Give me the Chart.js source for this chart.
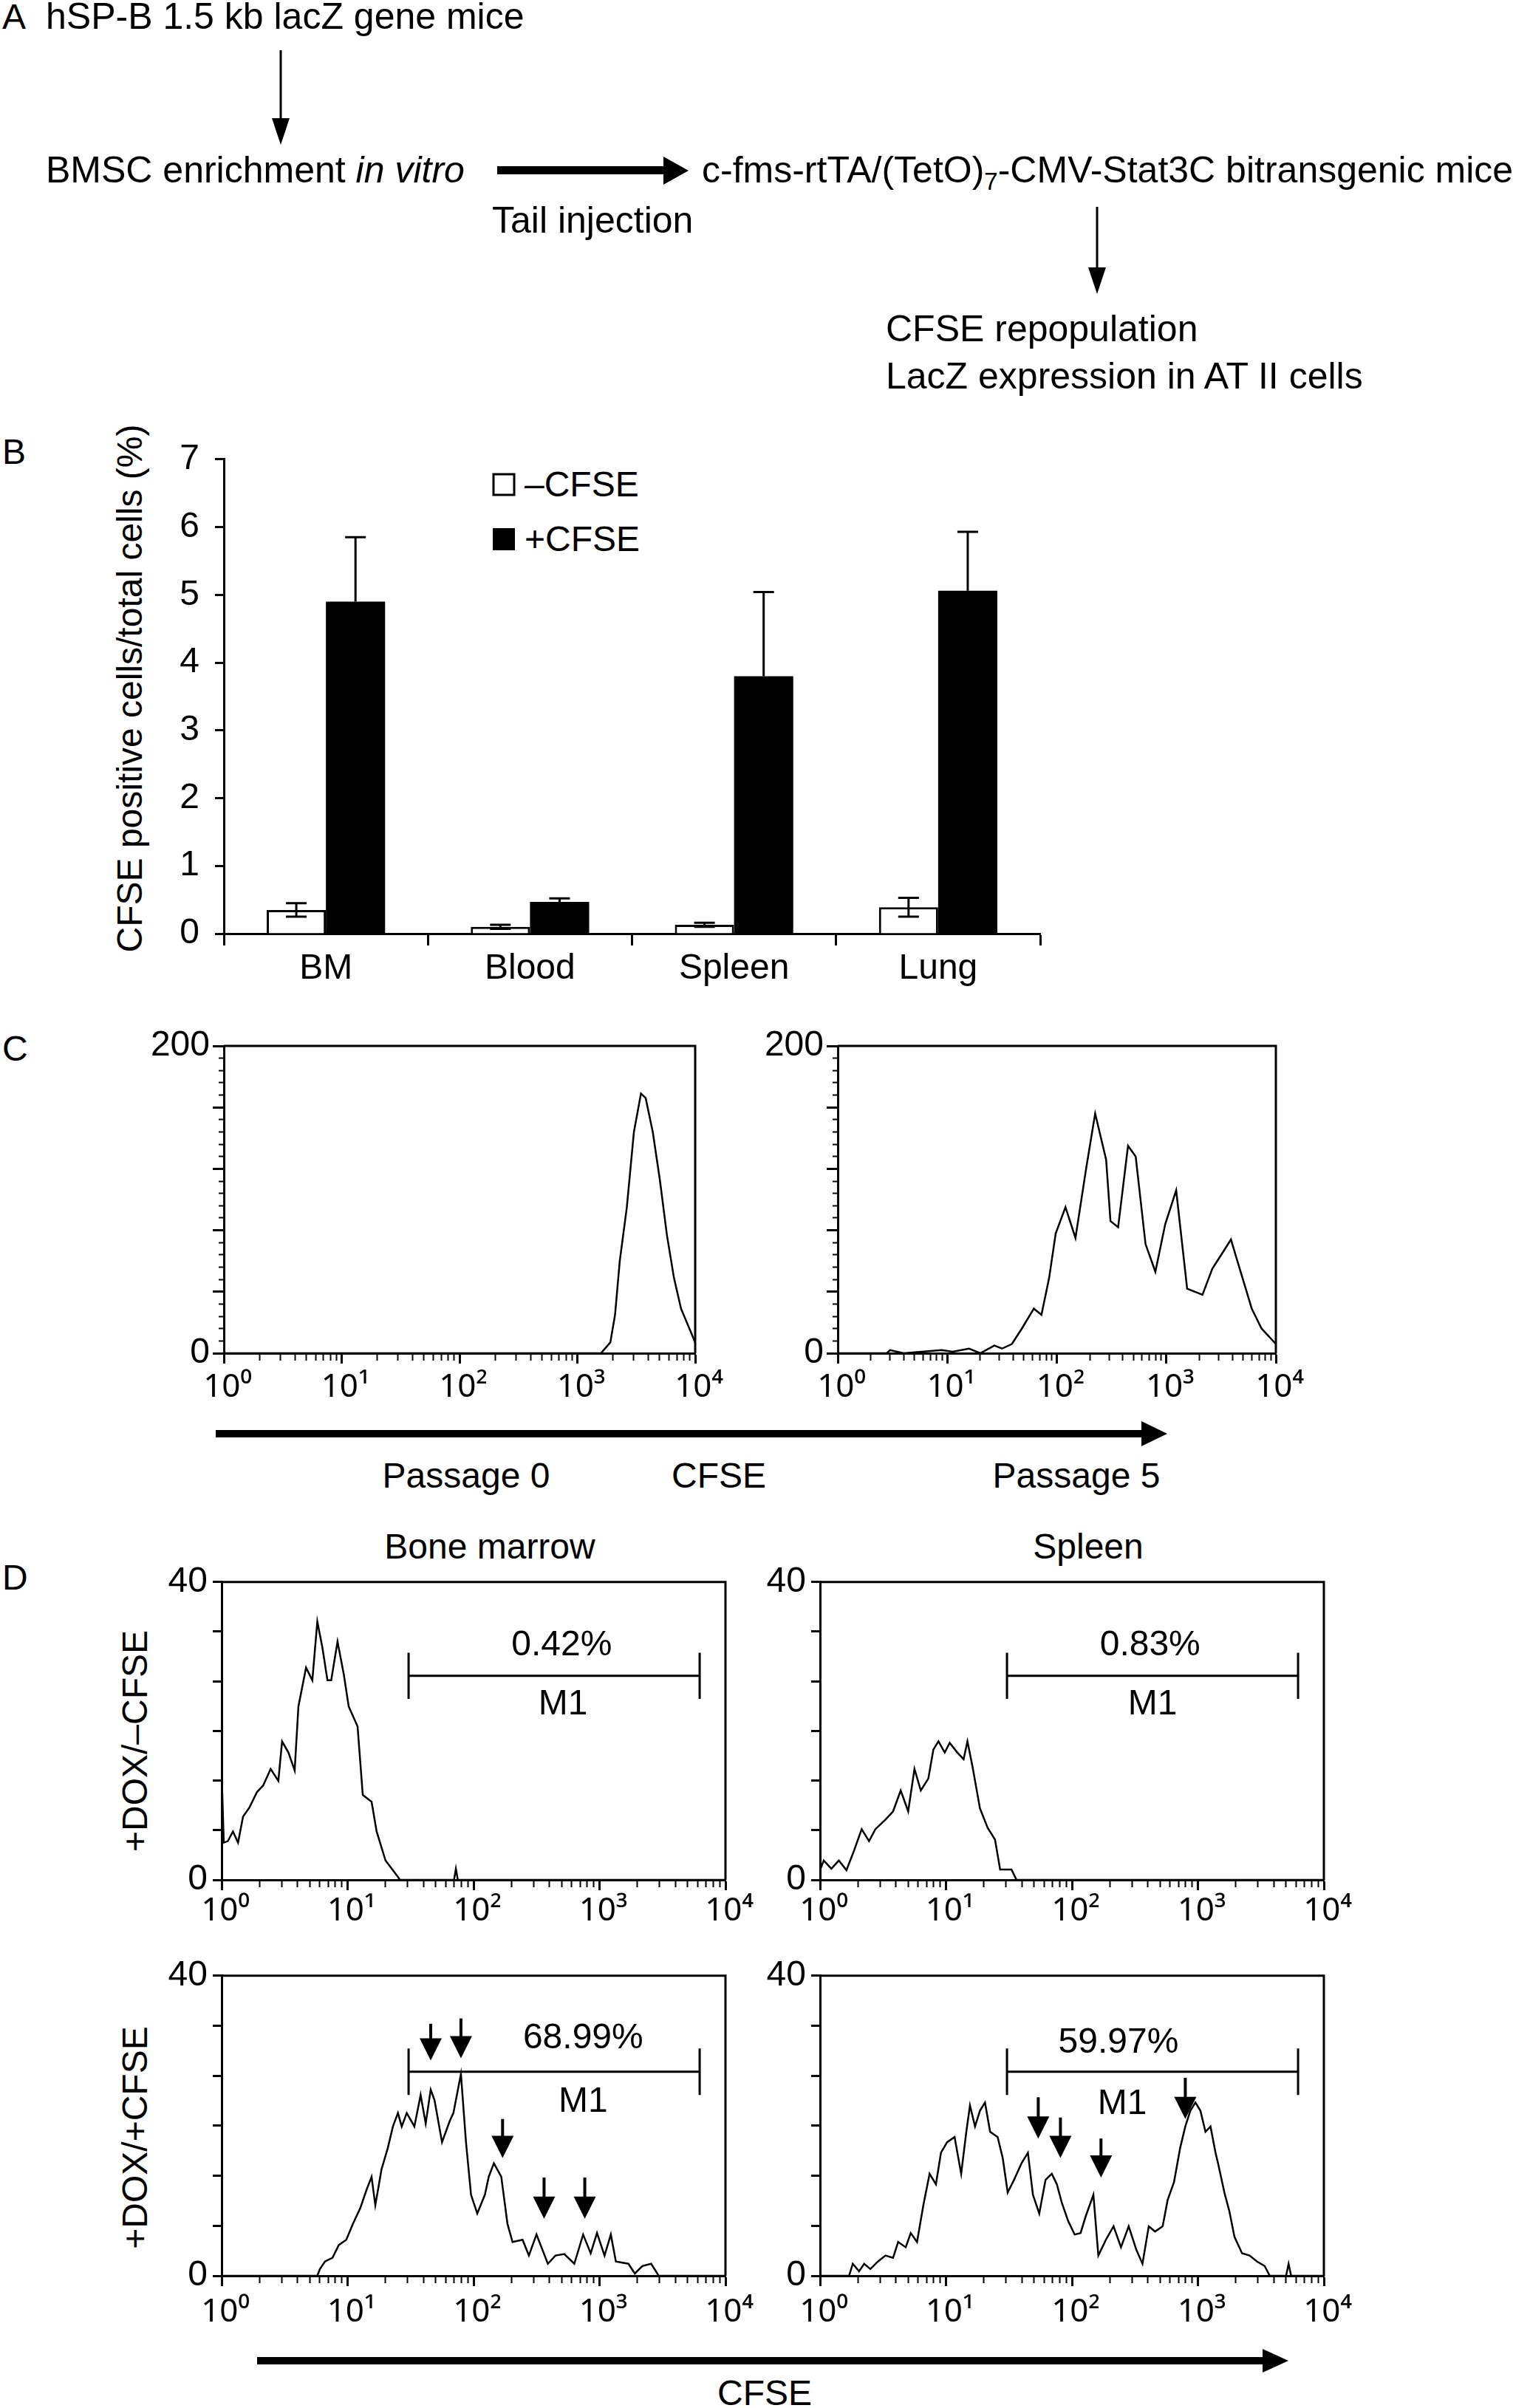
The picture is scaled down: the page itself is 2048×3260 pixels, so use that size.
<!DOCTYPE html>
<html>
<head>
<meta charset="utf-8">
<script src="https://cdn.jsdelivr.net/npm/chart.js@4.4.1/dist/chart.umd.min.js"></script>
<style>
  html, body { margin: 0; padding: 0; background: #fff; }
  #page { position: relative; width: 2048px; height: 3260px; overflow: hidden; background: #fff; }
  canvas { position: absolute; }
  svg { position: absolute; left: 0; top: 0; }
  svg text { font-family: "Liberation Sans", Arial, sans-serif; font-size: 48px; fill: #000; }
  svg .big { font-size: 50px; }
</style>
</head>
<body>
<div id="page">
<svg width="2048" height="3260">
  <!-- A: flow scheme -->
  <text x="3" y="39">A</text>
  <text class="big" x="62" y="39">hSP-B 1.5 kb lacZ gene mice</text>
  <line x1="380" y1="68" x2="380" y2="165" stroke="#000" stroke-width="3"/>
  <polygon points="368,160 392,160 380,196" fill="#000"/>
  <text class="big" x="62" y="247">BMSC enrichment <tspan font-style="italic">in vitro</tspan></text>
  <rect x="673" y="225" width="232" height="11" fill="#000"/>
  <polygon points="898,212 932,231 898,250" fill="#000"/>
  <text class="big" x="950" y="247">c-fms-rtTA/(TetO)<tspan font-size="33" dy="10">7</tspan><tspan dy="-10">-CMV-Stat3C bitransgenic mice</tspan></text>
  <text class="big" x="666" y="315">Tail injection</text>
  <line x1="1485" y1="280" x2="1485" y2="368" stroke="#000" stroke-width="3"/>
  <polygon points="1473,362 1497,362 1485,398" fill="#000"/>
  <text class="big" x="1199" y="462">CFSE repopulation</text>
  <text class="big" x="1199" y="526">LacZ expression in AT II cells</text>

  <!-- B -->
  <text x="3" y="628">B</text>
  <text transform="translate(175,932) rotate(-90)" text-anchor="middle" y="17">CFSE positive cells/total cells (%)</text>
  <rect x="668" y="642" width="28" height="28" fill="#fff" stroke="#000" stroke-width="3"/>
  <text x="710" y="672">–CFSE</text>
  <rect x="667" y="715" width="30" height="30" fill="#000"/>
  <text x="710" y="746">+CFSE</text>

  <!-- C -->
  <text x="3" y="1436">C</text>
  <rect x="292" y="1936" width="1258" height="10" fill="#000"/>
  <polygon points="1545,1924 1580,1941 1545,1958" fill="#000"/>
  <text x="631" y="2014" text-anchor="middle">Passage 0</text>
  <text x="973" y="2014" text-anchor="middle">CFSE</text>
  <text x="1457" y="2014" text-anchor="middle">Passage 5</text>

  <!-- D -->
  <text x="3" y="2152">D</text>
  <text x="663" y="2110" text-anchor="middle">Bone marrow</text>
  <text x="1473" y="2110" text-anchor="middle">Spleen</text>
  <text transform="translate(182,2357) rotate(-90)" text-anchor="middle" y="17">+DOX/–CFSE</text>
  <text transform="translate(182,2894) rotate(-90)" text-anchor="middle" y="17">+DOX/+CFSE</text>
  <rect x="348" y="3191" width="1366" height="10" fill="#000"/>
  <polygon points="1709,3180 1744,3196 1709,3212" fill="#000"/>
  <text x="1035" y="3256" text-anchor="middle">CFSE</text>
</svg>

<canvas id="barB" width="1225" height="772" style="left:203px;top:572px"></canvas>
<canvas id="histP0" width="793" height="526" style="left:193px;top:1381px"></canvas>
<canvas id="histP5" width="748" height="526" style="left:1024px;top:1381px"></canvas>
<canvas id="histBmNeg" width="837" height="514" style="left:190px;top:2106px"></canvas>
<canvas id="histSpNeg" width="837" height="514" style="left:1000px;top:2106px"></canvas>
<canvas id="histBmPos" width="837" height="517" style="left:190px;top:2639px"></canvas>
<canvas id="histSpPos" width="837" height="517" style="left:1000px;top:2639px"></canvas>
</div>

<script>
// B: CFSE positive cells / total cells (%)
const organs = ['BM', 'Blood', 'Spleen', 'Lung'];
const minusCfse = [0.35, 0.10, 0.13, 0.39];
const minusCfseSd = [0.10, 0.03, 0.03, 0.14];
const plusCfse = [4.90, 0.47, 3.80, 5.06];
const plusCfseSd = [0.95, 0.05, 1.24, 0.87];

// C: CFSE intensity / cell counts
const p0Cfse = [1, 1585, 1905, 2089, 2291, 2630, 3020, 3467, 3802, 4365, 5012, 5754, 6607, 7586, 8710, 10000];
const p0Counts = [0, 0, 7, 25, 60, 95, 144, 169, 166, 144, 113, 77, 49, 29, 18, 7];
const p5Cfse = [1, 2.8, 3.0, 4.0, 8.9, 11.2, 15.8, 20, 26.9, 31.6, 38.9, 47.9, 61.7, 72.4, 85.1, 97.7, 120, 148, 186, 224,
  282, 309, 363, 447, 525, 646, 794, 977, 1230, 1549, 2138, 2630, 3236, 3890, 4677, 6026, 7413, 10000];
const p5Counts = [0, 0, 2, 0, 2, 1, 3, 0, 5, 3, 6, 16, 29, 25, 49, 78, 95, 75, 121, 156,
  126, 86, 82, 135, 128, 71, 53, 84, 106, 42, 38, 55, 65, 74, 55, 29, 16, 6];

// D: +DOX/-CFSE
const bmNegCfse = [1, 1, 1.04, 1.12, 1.23, 1.35, 1.48, 1.66, 1.91, 2.14, 2.45, 2.82, 3.02, 3.39, 3.80, 4.07, 4.68, 5.25,
  5.75, 6.31, 6.92, 7.41, 8.32, 9.33, 10.2, 12.0, 13.2, 15.5, 17.0, 20.0, 25.1, 26, 70, 72.4, 75, 10000];
const bmNegCounts = [0, 14.5, 5, 5.2, 6.5, 5, 8.5, 9.7, 11.8, 12.7, 14.9, 13.3, 18.6, 17.1, 14.7, 23.3, 28.5, 26.8,
  34.7, 31.2, 26.8, 26.8, 32, 27.6, 23.3, 20.6, 11.4, 10.5, 6.5, 2.6, 0.4, 0, 0, 1.5, 0, 0];
const spNegCfse = [1, 1, 1.07, 1.23, 1.41, 1.62, 1.86, 2.14, 2.45, 2.75, 3.31, 3.80, 4.37, 5.01, 5.62, 6.31, 7.24, 7.94,
  8.71, 9.77, 10.7, 12.3, 13.8, 14.8, 16.2, 18.6, 21.4, 24.5, 26.9, 33.1, 36.3, 10000];
const spNegCounts = [0, 1.3, 2.6, 1.5, 2.6, 1.3, 3.9, 6.8, 5.2, 6.8, 8.1, 9.2, 12.0, 9.2, 14.9, 12.0, 13.6, 17.5,
  18.6, 17.1, 18.4, 17.1, 16.2, 18.6, 15.3, 9.6, 7.0, 5.4, 1.4, 1.4, 0, 0];

// D: +DOX/+CFSE
const bmPosCfse = [1, 5.75, 6.03, 6.61, 7.59, 8.51, 9.77, 11.0, 12.6, 14.1, 15.5, 16.6, 18.6, 20.9, 22.9, 25.1, 26.9,
  29.5, 33.9, 38.0, 41.7, 45.7, 49.0, 56.2, 64.6, 69.2, 79.4, 87.1, 95.5, 107, 123, 132, 145, 166, 186, 204, 245, 275,
  316, 389, 447, 525, 631, 741, 851, 955, 1096, 1230, 1349, 1698, 1905, 2188, 2570, 2951, 10000];
const bmPosCounts = [0, 0, 0.9, 1.9, 2.4, 4.1, 4.8, 6.9, 9.0, 11.4, 13.2, 9.4, 14.2, 17.1, 19.9, 21.7, 19.9,
  21.7, 19.9, 24.1, 20.3, 24.8, 23.4, 17.8, 20.6, 21.7, 26.9, 17.8, 10.8, 8.3, 10.8, 13.2, 15.0, 13.2, 6.9, 4.5, 4.8, 2.7,
  5.5, 1.6, 2.7, 2.9, 1.6, 5.5, 3.0, 5.7, 2.7, 5.5, 1.9, 1.6, 0.3, 1.3, 1.6, 0, 0];
const spPosCfse = [1, 1.70, 1.82, 2.04, 2.24, 2.51, 2.88, 3.31, 3.80, 4.17, 4.79, 5.25, 5.89, 6.61, 7.41, 8.32, 9.12,
  10.2, 11.7, 13.2, 14.5, 15.5, 17.0, 18.6, 20.4, 22.4, 25.7, 28.2, 30.9, 34.7, 39.8, 44.7, 49.0, 55.0, 61.7, 69.2,
  75.9, 83.2, 93.3, 105, 117, 129, 148, 162, 186, 214, 245, 282, 324, 363, 407, 457, 525, 575, 646, 724, 794, 871,
  955, 1047, 1148, 1259, 1380, 1445, 1622, 1778, 1950, 2239, 2570, 2951, 3388, 3715, 5012, 5248, 5495, 10000];
const spPosCounts = [0, 0, 1.6, 0.6, 1.6, 0.9, 1.9, 2.7, 2.4, 4.5, 3.8, 5.7, 4.5, 9.4, 13.6, 12.2, 16.4,
  17.8, 18.5, 13.6, 19.2, 22.7, 19.9, 22.0, 23.1, 19.2, 18.5, 15.7, 11.1, 12.8, 15.0, 16.4, 10.8, 8.3, 12.8, 13.6,
  12.2, 9.7, 7.3, 5.5, 5.7, 8.0, 10.8, 2.7, 4.8, 6.6, 3.8, 6.6, 3.5, 1.6, 6.6, 5.9, 6.6, 10.1, 12.5, 17.1, 19.9, 22.0,
  23.1, 22.0, 19.2, 19.9, 16.4, 15.0, 11.1, 8.6, 5.2, 3.0, 2.7, 1.9, 1.3, 0, 0, 1.6, 0, 0];

// M1 gate and its percentages (BM -CFSE, spleen -CFSE, BM +CFSE, spleen +CFSE)
const gateM1 = [30.5, 6240];
const gatePct = ['0.42%', '0.83%', '68.99%', '59.97%'];
const gatePctAt = [[501, 31.5], [417, 31.5], [741, 31.6], [234, 31.0]];
const gateM1At = [[513, 23.5], [437, 23.5], [741, 23.2], [251, 22.9]];
const gateLevel = [27.4, 27.4, 27.2, 27.2];

// division peaks marked by arrows: CFSE value, arrow top count, arrow tip count
const bmPeakCfse = [45.7, 79.4, 170, 363, 764];
const bmPeakTop = [33.6, 34.3, 20.9, 13.1, 13.1];
const bmPeakTip = [28.7, 29.0, 15.7, 7.6, 7.6];
const spPeakCfse = [54, 81, 170, 794];
const spPeakTop = [23.8, 21.1, 18.3, 26.4];
const spPeakTip = [18.3, 15.7, 13.1, 20.9];

const decadeLabels = { 1: '10⁰', 10: '10¹', 100: '10²', 1000: '10³', 10000: '10⁴' };
const logTicks = [];
[1, 10, 100, 1000].forEach(d => { for (let k = 1; k < 10; k++) logTicks.push(d * k); });
logTicks.push(10000);

Chart.defaults.font.family = '"Liberation Sans", Arial, sans-serif';
Chart.defaults.font.size = 48;
Chart.defaults.color = '#000';

const pts = (xs, ys) => xs.map((x, i) => ({ x: x, y: ys[i] }));
const isDecade = v => decadeLabels[v] !== undefined;

const errorBars = {
  id: 'errorBars',
  afterDatasetsDraw(chart) {
    const ctx = chart.ctx, y = chart.scales.y;
    ctx.save();
    ctx.strokeStyle = '#000';
    ctx.lineWidth = 3;
    chart.data.datasets.forEach((ds, di) => {
      chart.getDatasetMeta(di).data.forEach((bar, i) => {
        const v = ds.data[i], e = ds.sd[i];
        const top = y.getPixelForValue(v + e);
        const bot = y.getPixelForValue(ds.twoSided ? v - e : v);
        ctx.beginPath();
        ctx.moveTo(bar.x, top); ctx.lineTo(bar.x, bot);
        ctx.moveTo(bar.x - 14, top); ctx.lineTo(bar.x + 14, top);
        if (ds.twoSided) { ctx.moveTo(bar.x - 14, bot); ctx.lineTo(bar.x + 14, bot); }
        ctx.stroke();
      });
    });
    ctx.restore();
  }
};

const histMarks = {
  id: 'histMarks',
  afterDatasetsDraw(chart, args, o) {
    const { ctx, chartArea: a } = chart;
    const x = chart.scales.x, y = chart.scales.y;
    ctx.save();
    ctx.strokeStyle = '#000';
    ctx.fillStyle = '#000';
    ctx.lineWidth = 3;
    ctx.beginPath();
    ctx.moveTo(a.left, a.top); ctx.lineTo(a.right, a.top); ctx.lineTo(a.right, a.bottom);
    ctx.stroke();
    if (o.pct) {
      const x1 = x.getPixelForValue(gateM1[0]), x2 = x.getPixelForValue(gateM1[1]);
      const yy = y.getPixelForValue(o.level);
      const yt = y.getPixelForValue(o.level + 3.1), yb = y.getPixelForValue(o.level - 3.1);
      ctx.beginPath();
      ctx.moveTo(x1, yy); ctx.lineTo(x2, yy);
      ctx.moveTo(x1, yt); ctx.lineTo(x1, yb);
      ctx.moveTo(x2, yt); ctx.lineTo(x2, yb);
      ctx.stroke();
      ctx.font = '48px "Liberation Sans", Arial, sans-serif';
      ctx.textAlign = 'center';
      ctx.textBaseline = 'middle';
      ctx.fillText(o.pct, x.getPixelForValue(o.pctAt[0]), y.getPixelForValue(o.pctAt[1]));
      ctx.fillText('M1', x.getPixelForValue(o.m1At[0]), y.getPixelForValue(o.m1At[1]));
    }
    if (o.peaks) {
      o.peaks.cfse.forEach((v, i) => {
        const px = x.getPixelForValue(v);
        const top = y.getPixelForValue(o.peaks.top[i]);
        const tip = y.getPixelForValue(o.peaks.tip[i]);
        ctx.lineWidth = 4;
        ctx.beginPath(); ctx.moveTo(px, top); ctx.lineTo(px, tip - 20); ctx.stroke();
        ctx.beginPath();
        ctx.moveTo(px - 15, tip - 30); ctx.lineTo(px + 15, tip - 30); ctx.lineTo(px, tip);
        ctx.closePath(); ctx.fill();
      });
    }
    ctx.restore();
  }
};

function histChart(id, xs, ys, yMax, yStep, marks, box) {
  const yMajor = v => yMax !== 200 || Math.abs(v % 40) < 1e-6;
  return new Chart(document.getElementById(id), {
    type: 'line',
    data: { datasets: [{ data: pts(xs, ys), borderColor: '#000', borderWidth: 2.5, pointRadius: 0, tension: 0, fill: false }] },
    options: {
      responsive: false, animation: false, devicePixelRatio: 1,
      layout: { autoPadding: false, padding: { top: 35, right: 45, left: 0, bottom: 0 } },
      plugins: { legend: { display: false }, tooltip: { enabled: false }, histMarks: marks },
      scales: {
        x: {
          type: 'logarithmic', min: 1, max: 10000,
          afterBuildTicks: s => { s.ticks = logTicks.map(v => ({ value: v, major: isDecade(v) })); },
          afterFit: s => { s.height = 75; },
          ticks: { autoSkip: false, maxRotation: 0, padding: box.xpad, labelOffset: 5,
            font: { family: '"Noto Sans", "DejaVu Sans", sans-serif', size: 44 },
            callback: v => decadeLabels[v] || '' },
          border: { color: '#000', width: 3 },
          grid: {
            drawOnChartArea: false, tickLength: 14, tickColor: '#000',
            tickWidth: c => (c.tick && isDecade(c.tick.value)) ? 3 : 2,
            tickBorderDash: [14, 300],
            tickBorderDashOffset: c => (c.tick && isDecade(c.tick.value)) ? 0 : 6
          }
        },
        y: {
          min: 0, max: yMax,
          afterFit: s => { s.width = 110; },
          ticks: { stepSize: yStep, autoSkip: false, padding: box.ypad,
            callback: v => v === 0 ? '0' : (Math.abs(v - yMax) < 0.01 ? String(yMax) : '') },
          border: { color: '#000', width: 3 },
          grid: {
            drawOnChartArea: false, tickLength: box.ytick, tickColor: '#000',
            tickWidth: c => (c.tick && yMajor(c.tick.value)) ? 3 : 2,
            tickBorderDash: [box.ytick, 300],
            tickBorderDashOffset: c => (c.tick && yMajor(c.tick.value)) ? 0 : 300 + box.ytick - 8
          }
        }
      }
    },
    plugins: [histMarks]
  });
}

new Chart(document.getElementById('barB'), {
  type: 'bar',
  data: {
    labels: organs,
    datasets: [
      { label: '–CFSE', data: minusCfse, sd: minusCfseSd, twoSided: true, backgroundColor: '#fff', borderColor: '#000', borderWidth: 3,
        categoryPercentage: 0.58, barPercentage: 1 },
      { label: '+CFSE', data: plusCfse, sd: plusCfseSd, twoSided: false, backgroundColor: '#000', borderColor: '#000', borderWidth: 0,
        categoryPercentage: 0.58, barPercentage: 1 }
    ]
  },
  options: {
    responsive: false, animation: false, devicePixelRatio: 1,
    layout: { autoPadding: false, padding: { top: 40, right: 20, left: 0, bottom: 0 } },
    plugins: { legend: { display: false }, tooltip: { enabled: false } },
    scales: {
      x: {
        afterFit: s => { s.height = 80; },
        ticks: { padding: 3 },
        border: { color: '#000', width: 3 },
        grid: { offset: true, drawOnChartArea: false, tickLength: 16, tickWidth: 3, tickColor: '#000' }
      },
      y: {
        min: 0, max: 7,
        afterFit: s => { s.width = 100; },
        ticks: { stepSize: 1, padding: 21 },
        border: { color: '#000', width: 3 },
        grid: { drawOnChartArea: false, tickLength: 12, tickWidth: 3, tickColor: '#000' }
      }
    }
  },
  plugins: [errorBars]
});

const cBox = { xpad: 6, ypad: 4, ytick: 15 };
histChart('histP0', p0Cfse, p0Counts, 200, 8, {}, cBox);
histChart('histP5', p5Cfse, p5Counts, 200, 8, {}, cBox);

const dTop = { xpad: 2, ypad: 7, ytick: 12 };
const dBot = { xpad: 9, ypad: 7, ytick: 12 };
histChart('histBmNeg', bmNegCfse, bmNegCounts, 40, 40 / 6,
  { pct: gatePct[0], pctAt: gatePctAt[0], m1At: gateM1At[0], level: gateLevel[0] }, dTop);
histChart('histSpNeg', spNegCfse, spNegCounts, 40, 40 / 6,
  { pct: gatePct[1], pctAt: gatePctAt[1], m1At: gateM1At[1], level: gateLevel[1] }, dTop);
histChart('histBmPos', bmPosCfse, bmPosCounts, 40, 40 / 6,
  { pct: gatePct[2], pctAt: gatePctAt[2], m1At: gateM1At[2], level: gateLevel[2],
    peaks: { cfse: bmPeakCfse, top: bmPeakTop, tip: bmPeakTip } }, dBot);
histChart('histSpPos', spPosCfse, spPosCounts, 40, 40 / 6,
  { pct: gatePct[3], pctAt: gatePctAt[3], m1At: gateM1At[3], level: gateLevel[3],
    peaks: { cfse: spPeakCfse, top: spPeakTop, tip: spPeakTip } }, dBot);
</script>
</body>
</html>
